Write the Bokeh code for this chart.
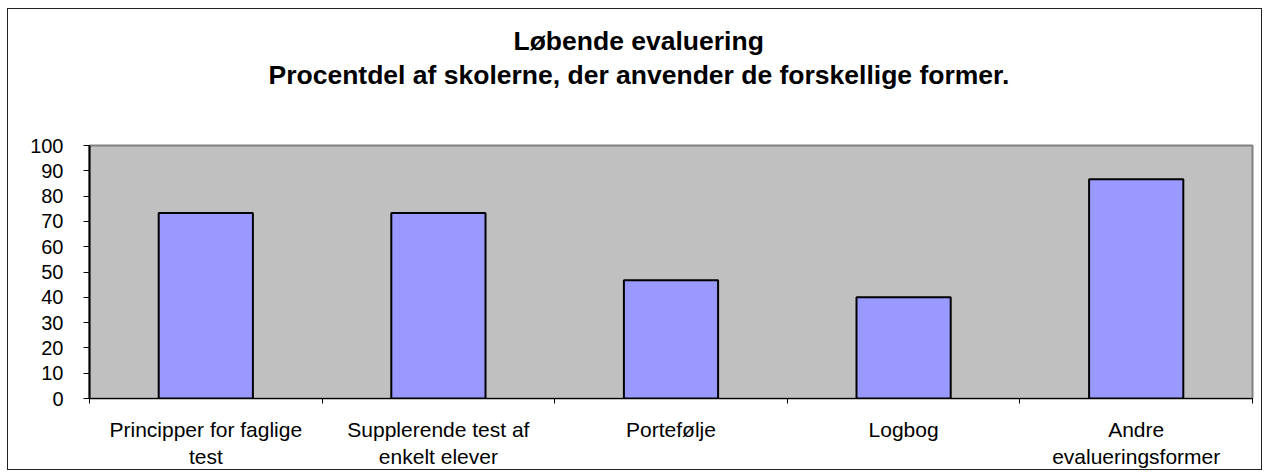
from bokeh.plotting import figure
from bokeh.models import Range1d, FixedTicker, Title
from bokeh.embed import file_html
from bokeh.resources import INLINE

categories = ["Principper for faglige\ntest", "Supplerende test af\nenkelt elever",
              "Portefølje", "Logbog", "Andre\nevalueringsformer"]
values = [73.3, 73.3, 46.7, 40.0, 86.7]
y_ticks = [0, 10, 20, 30, 40, 50, 60, 70, 80, 90, 100]
title1 = "Løbende evaluering"
title2 = "Procentdel af skolerne, der anvender de forskellige former."

FONT = "Liberation Sans"

p = figure(width=1255, height=462, output_backend="svg", toolbar_location=None,
           x_range=Range1d(0, len(categories)), y_range=Range1d(0, 100),
           min_border_left=81, min_border_right=11, min_border_bottom=71, min_border_top=136)
p.title = None
p.styles = {"border": "1px solid #222", "margin-left": "7px", "margin-top": "8px"}

# spacer between the title lines and the plot area
spacer = Title(text="\u00a0", text_font=FONT, text_font_size="26.5px", standoff=24)
t2 = Title(text=title2, align="left", offset=179, vertical_align="bottom",
           text_font=FONT, text_font_size="26.5px", text_font_style="bold",
           text_color="black", standoff=0)
t1 = Title(text=title1, align="left", offset=424, vertical_align="bottom",
           text_font=FONT, text_font_size="26.5px", text_font_style="bold",
           text_color="black", standoff=4)
p.add_layout(spacer, "above")
p.add_layout(t2, "above")
p.add_layout(t1, "above")

p.background_fill_color = "#C0C0C0"
p.border_fill_color = "white"
p.outline_line_color = "#808080"
p.outline_line_width = 2
p.xgrid.visible = False
p.ygrid.visible = False

xs = [i + 0.5 for i in range(len(categories))]
p.vbar(x=xs, top=values, width=0.405, bottom=0, fill_color="#9999FF",
       line_color="black", line_width=2)

xa = p.xaxis[0]
xa.ticker = FixedTicker(ticks=xs, minor_ticks=list(range(len(categories) + 1)))
xa.major_label_overrides = {x: c for x, c in zip(xs, categories)}
xa.major_tick_out = 0
xa.major_tick_in = 0
xa.minor_tick_out = 5
xa.minor_tick_in = 0
xa.minor_tick_line_color = "black"
xa.axis_line_color = "black"
xa.axis_line_width = 1
xa.major_label_text_font = FONT
xa.major_label_text_font_size = "21px"
xa.major_label_text_color = "black"
xa.major_label_standoff = 14

ya = p.yaxis[0]
ya.ticker = FixedTicker(ticks=y_ticks)
ya.minor_tick_line_color = None
ya.major_tick_out = 6
ya.major_tick_in = 0
ya.major_tick_line_color = "black"
ya.axis_line_color = "black"
ya.axis_line_width = 2
ya.major_label_text_font = FONT
ya.major_label_text_font_size = "20px"
ya.major_label_text_color = "black"
ya.major_label_standoff = 20

open("out.html", "w").write(file_html(p, INLINE))
